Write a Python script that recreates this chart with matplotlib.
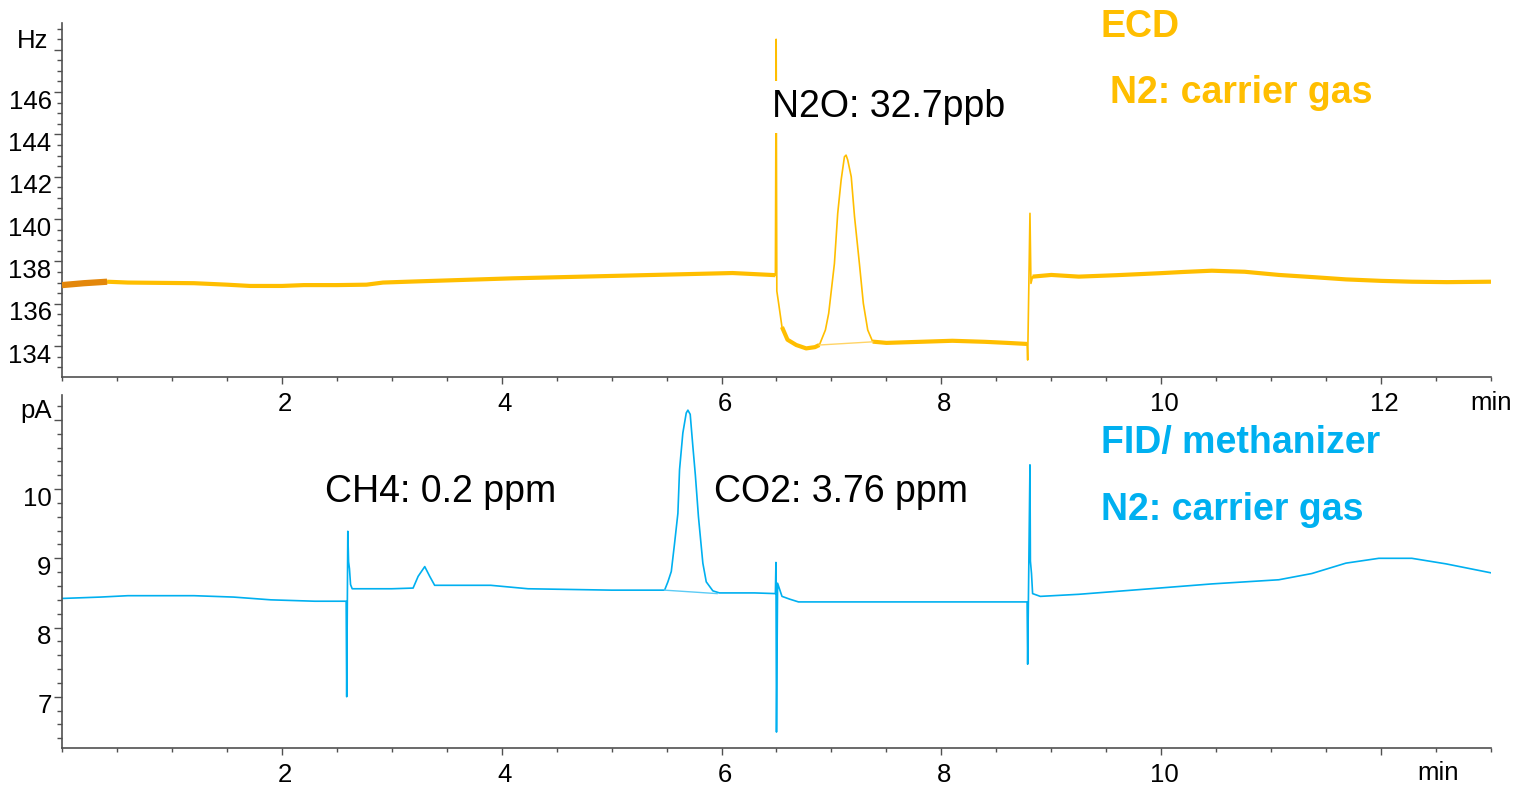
import matplotlib
matplotlib.use('Agg')
import matplotlib.pyplot as plt
import matplotlib.transforms as mtransforms
from matplotlib.ticker import MultipleLocator
import numpy as np

plt.rcParams['font.family'] = ['Liberation Sans', 'DejaVu Sans']

# ECD trace (top), time in min, signal in Hz
ecd_t = [0.00, 0.20, 0.41, 0.60, 0.80, 1.00, 1.20, 1.50, 1.71, 2.00, 2.20, 2.50, 2.77,
         2.92, 3.20, 3.50, 3.80, 4.10, 4.50, 4.90, 5.30, 5.70, 6.10, 6.49,
         6.497, 6.503, 6.52, 6.55, 6.60, 6.68, 6.77, 6.85, 6.89, 6.945, 6.975,
         7.027, 7.057, 7.088, 7.118, 7.133, 7.148, 7.18, 7.21, 7.254, 7.29, 7.33,
         7.375, 7.50, 7.80, 8.10, 8.40, 8.60, 8.78, 8.785, 8.806, 8.815, 8.83,
         9.00, 9.25, 9.60, 9.98, 10.20, 10.46, 10.76, 11.07, 11.40, 11.68, 12.00,
         12.28, 12.60, 13.00]
ecd_v = [136.88, 136.97, 137.04, 137.00, 136.99, 136.98, 136.97, 136.90, 136.84, 136.84,
         136.88, 136.88, 136.90, 137.00, 137.05, 137.10, 137.15, 137.20, 137.25, 137.30,
         137.35, 137.40, 137.45, 137.35,
         148.49, 136.60, 136.00, 134.90, 134.30, 134.05, 133.89, 133.95, 134.05, 134.76,
         135.55, 137.90, 140.27, 141.84, 142.94, 143.02, 142.79, 142.00, 140.11, 137.91,
         136.02, 134.76, 134.21, 134.15, 134.20, 134.25, 134.20, 134.15, 134.10, 133.34,
         140.27, 136.96, 137.28, 137.36, 137.28, 137.35, 137.44, 137.50, 137.56, 137.51,
         137.36, 137.25, 137.15, 137.08, 137.04, 137.02, 137.04]
ecd_base_t = [6.89, 7.375]
ecd_base_v = [134.05, 134.20]

# FID trace (bottom), signal in pA
fid_t = [0.00, 0.35, 0.60, 1.20, 1.56, 1.90, 2.30, 2.585, 2.59, 2.60, 2.607, 2.615, 2.625,
         2.64, 3.00, 3.194, 3.24, 3.30, 3.345, 3.39, 3.50, 3.90, 4.24, 5.00, 5.482,
         5.512, 5.543, 5.573, 5.603, 5.618, 5.648, 5.679, 5.694, 5.715, 5.739, 5.762,
         5.790, 5.830, 5.861, 5.921, 5.98, 6.30, 6.49, 6.495, 6.50, 6.51, 6.55, 6.62,
         6.70, 7.50, 8.20, 8.78, 8.785, 8.806, 8.81, 8.82, 8.83, 8.90, 9.25, 9.98,
         10.46, 11.07, 11.37, 11.68, 11.98, 12.28, 12.59, 13.00]
fid_v = [8.42, 8.44, 8.46, 8.46, 8.44, 8.40, 8.38, 8.38, 7.00, 9.39, 8.95, 8.85, 8.62,
         8.56, 8.56, 8.57, 8.74, 8.88, 8.74, 8.61, 8.61, 8.61, 8.56, 8.54, 8.54,
         8.66, 8.81, 9.22, 9.65, 10.28, 10.81, 11.10, 11.14, 11.08, 10.62, 10.20,
         9.60, 8.93, 8.66, 8.53, 8.50, 8.50, 8.49, 8.94, 6.49, 8.64, 8.45, 8.41,
         8.37, 8.37, 8.37, 8.37, 7.47, 10.35, 8.96, 8.78, 8.49, 8.45, 8.48, 8.57,
         8.63, 8.69, 8.78, 8.93, 9.00, 9.00, 8.92, 8.79]
fid_base_t = [5.482, 5.96]
fid_base_v = [8.54, 8.49]

peak_labels = ['N2O: 32.7ppb', 'CH4: 0.2 ppm', 'CO2: 3.76 ppm']

ECD_C = '#FFBE00'
FID_C = '#00B0F0'
AX_C = '#505050'

fig = plt.figure(figsize=(15.2, 7.88), dpi=100)
ax1 = fig.add_axes([0.0408, 0.5216, 0.9401, 0.4492])
ax2 = fig.add_axes([0.0408, 0.0508, 0.9401, 0.4480])
ax1.set_zorder(3)  # keep top x labels above the lower panel

ecd_t = np.array(ecd_t)
ecd_v = np.array(ecd_v)

# thin trace + thicker overlay where the baseline is noisy
ax1.plot(ecd_t, ecd_v, color=ECD_C, lw=1.2, zorder=2)
for a, b in [(0.41, 6.49), (6.55, 6.93), (7.375, 8.78), (8.83, 13.0)]:
    m = (ecd_t >= a) & (ecd_t <= b)
    ax1.plot(ecd_t[m], ecd_v[m], color=ECD_C, lw=3.0, solid_capstyle='butt', zorder=2)
m = ecd_t <= 0.41
ax1.plot(ecd_t[m], ecd_v[m], color='#E3870B', lw=4.5, solid_capstyle='butt', zorder=3)
ax1.plot(ecd_base_t, ecd_base_v, color='#FFD466', lw=1.0, zorder=2)

ax2.plot(fid_t, fid_v, color=FID_C, lw=1.2, zorder=2)
ax2.plot(fid_base_t, fid_base_v, color='#5CCBF5', lw=1.0, zorder=2)

ax1.set_xlim(0, 13)
ax1.set_ylim(132.54, 149.26)
ax2.set_xlim(0, 13)
ax2.set_ylim(6.26, 11.36)

for ax in (ax1, ax2):
    for s in ('top', 'right'):
        ax.spines[s].set_visible(False)
    for s in ('left', 'bottom'):
        ax.spines[s].set_color(AX_C)
        ax.spines[s].set_linewidth(1.2)
    ax.set_xticks([2, 4, 6, 8, 10, 12])
    ax.xaxis.set_minor_locator(MultipleLocator(0.5))
    ax.tick_params(axis='both', which='both', direction='out', color=AX_C,
                   width=1.0, labelsize=18.5, labelcolor='black')
    ax.tick_params(axis='x', which='major', length=5, pad=6)
    ax.tick_params(axis='x', which='minor', length=3)
    ax.tick_params(axis='y', which='major', length=6, pad=1.5)
    ax.tick_params(axis='y', which='minor', length=3.5)

ax1.set_xticklabels(['2', '4', '6', '8', '10', '12'])
ax2.set_xticklabels(['2', '4', '6', '8', '10', ''])

ax1.set_yticks([134, 136, 138, 140, 142, 144, 146, 148])
ax1.set_yticklabels(['134', '136', '138', '140', '142', '144', '146', ''])
ax1.yaxis.set_minor_locator(MultipleLocator(0.5))
ax2.set_yticks([7, 8, 9, 10, 11])
ax2.set_yticklabels(['7', '8', '9', '10', ''])
ax2.yaxis.set_minor_locator(MultipleLocator(0.2))

# instrument-style label offsets
dx = mtransforms.ScaledTranslation(3 / 100, 0, fig.dpi_scale_trans)
dy = mtransforms.ScaledTranslation(0, -7 / 100, fig.dpi_scale_trans)
for ax in (ax1, ax2):
    for lab in ax.get_xticklabels():
        lab.set_transform(lab.get_transform() + dx)
    for lab in ax.get_yticklabels():
        lab.set_transform(lab.get_transform() + dy)

# units
ax1.annotate('Hz', xy=(0, 148), xycoords=ax1.get_yaxis_transform(), xytext=(-14, 9),
             textcoords='offset pixels', ha='right', va='center', fontsize=18.5)
ax2.annotate('pA', xy=(0, 11), xycoords=ax2.get_yaxis_transform(), xytext=(-10, 9),
             textcoords='offset pixels', ha='right', va='center', fontsize=18.5)
ax1.annotate('min', xy=(13, 0), xycoords=ax1.get_xaxis_transform(), xytext=(0, -26),
             textcoords='offset pixels', ha='center', va='center', fontsize=18.5)
ax2.annotate('min', xy=(12.52, 0), xycoords=ax2.get_xaxis_transform(), xytext=(0, -25),
             textcoords='offset pixels', ha='center', va='center', fontsize=18.5)

# peak annotations
box = dict(facecolor='white', edgecolor='none', pad=6)
ax1.text(6.455, 144.82, peak_labels[0], fontsize=27, va='baseline', ha='left',
         bbox=box, zorder=5)
ax2.text(2.39, 9.82, peak_labels[1], fontsize=27, va='baseline', ha='left', zorder=5)
ax2.text(5.927, 9.82, peak_labels[2], fontsize=27, va='baseline', ha='left', zorder=5)

# detector labels
ax1.text(0.727, 0.961, 'ECD', transform=ax1.transAxes, color=ECD_C, fontsize=27,
         fontweight='bold', va='baseline')
ax1.text(0.7334, 0.774, 'N2: carrier gas', transform=ax1.transAxes, color=ECD_C,
         fontsize=27, fontweight='bold', va='baseline')
ax2.text(0.727, 0.835, 'FID/ methanizer', transform=ax2.transAxes, color=FID_C,
         fontsize=27, fontweight='bold', va='baseline')
ax2.text(0.727, 0.646, 'N2: carrier gas', transform=ax2.transAxes, color=FID_C,
         fontsize=27, fontweight='bold', va='baseline')

fig.savefig('out.png', dpi=100)
